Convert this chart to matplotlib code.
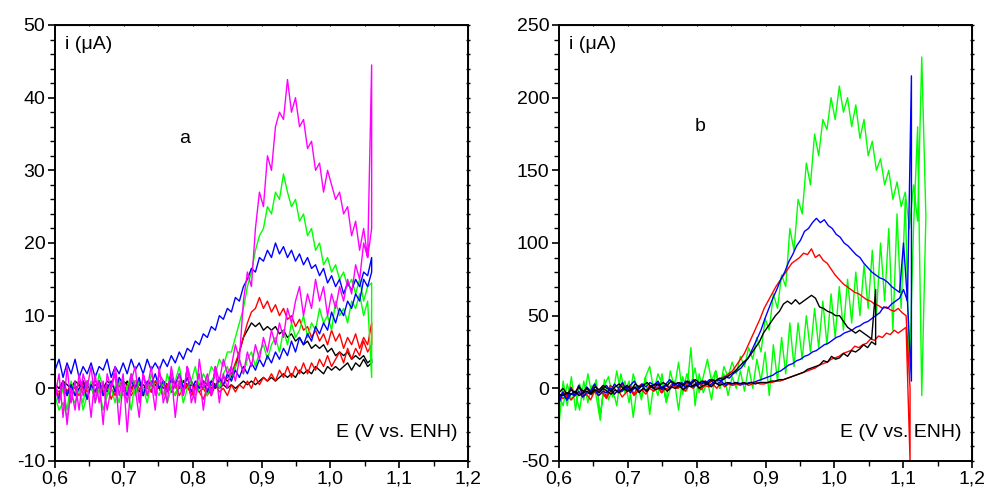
import numpy as np
import matplotlib
matplotlib.use("Agg")
import matplotlib.pyplot as plt
from matplotlib.ticker import MultipleLocator, FuncFormatter

plt.rcParams['font.family'] = ['Liberation Sans', 'DejaVu Sans']

# ---------------- panel a : sweep 0.60 -> 1.06 V ----------------
a_e_min, a_e_max = 0.60, 1.06

a_black_fwd = [0.5, 0, 1, 0.5, 0, 1, 0.5, 1, 0, 0.5, 1, 0.5, 0, 1, 0.5, 0, 0.5, 1, 0.5, 0, 1, 0.5, 0, 0.5,
               1, 0.5, 0, 1, 0.5, 1, 0.5, 0, 1, 0.5, 1, 0, 0.5, 1, 0.5, 1, 0.5, 1, 1.5, 1,
               1.5, 3, 5, 7, 8, 9, 8.5, 9, 8, 8.5, 8, 8.5, 7.5, 8, 7, 7.5, 6.5, 7, 6, 6.5,
               5.5, 6, 5.5, 6, 5, 5.5, 4.5, 5, 4.5, 5, 4, 4.5, 4, 4.5, 3.5, 4]
a_black_rev = [3.5, 3, 4, 3, 3.5, 2.5, 3.5, 3, 2.5, 3, 2.5, 3, 2, 2.5, 3, 2, 2.5, 2, 2.5, 1.5, 2, 1.5,
               2, 1.5, 1, 1.5, 1, 1.5, 1, 0.5, 1, 0.5, 1, 0.5, 0, 0.5, 0, 0.5, 0, 0.5, 0, 0.5, 0, 0.5,
               0, 0.5, 0, 1, 0, 0.5, -0.5, 0.5, 0, 1, 0, 0.5, 0, 0.5, -0.5, 0.5, 0, 1, 0, 0.5,
               0, 0.5, -0.5, 0.5, 0, 0.5, 0, 1, 0, 0.5, 0, 0.5, -0.5, 0.5, 0, 0.5]

a_red_fwd = [0, -1, 1, -0.5, 0.5, -1, 1, 0, -1.5, 0.5, -0.5, 1, -1, 0.5, 0, -1, 1, -0.5, 0.5, -1, 0, 1,
             -1, 0.5, -0.5, 1, 0, -1, 0.5, -0.5, 1, -1, 0, 0.5, -1, 0.5, -0.5, 0, -1, 0.5, 0, 1, 0.5, 1.5,
             2, 3.5, 5, 7, 9, 10.5, 11, 12.5, 11, 12, 10.5, 11.5, 10, 11, 9.5, 10, 8.5, 9.5, 8, 8.5,
             7, 8, 6.5, 7.5, 6, 8, 6.5, 7.5, 5.5, 7, 6, 7.5, 5.5, 7, 6, 9]
a_red_rev = [6, 5, 6.5, 4.5, 5.5, 4, 5.5, 3.5, 5, 4, 3, 4.5, 3, 4, 2.5, 3.5, 2, 3.5, 2, 3, 1.5, 3,
             1.5, 2.5, 1, 2, 1, 1.5, 0.5, 1.5, 0, 1, 0, 0.5, -0.5, 0.5, -1, 0, -0.5, 0.5, -1, 0, -1.5, -0.5,
             0, -1, 0.5, -0.5, 1, -1, 0, 0.5, -1, 0, 1, -0.5, 0.5, -1, 0, 1, -0.5, 0, -1, 0.5,
             0, -1.5, 0.5, -0.5, 1, -1, 0, -0.5, 1, -1, 0, 0.5, -1, 0, -0.5, 0]

a_green_fwd = [1, -2, 0, -3, 1, -1, 0, -2, 1, 0, -1, 2, 0, -1, 1, 0, -2, 1, 0, 2, -1, 1, 0, -1,
               2, 0, 1, -1, 2, 0, 1, 3, 0, 2, 1, 3, 0, 2, 1, 3, 2, 4, 3, 5,
               5, 7, 9, 11, 14, 16, 19, 21, 22, 25, 24, 27, 26, 29.5, 27, 25, 26, 23, 24, 21,
               22, 19, 20, 17, 18, 16, 17, 15, 16, 14, 15, 13, 15, 12, 14, 14.5]
a_green_rev = [1.5, 12, 10, 13, 11, 12, 9, 11, 10, 12, 8, 10, 9, 11, 8, 9, 7, 10, 8, 7, 9, 6,
               8, 5, 7, 6, 4, 6, 5, 3, 5, 4, 2, 4, 3, 1, 3, 2, 0, 2, 1, -1, 1, 0,
               -1, 1, 0, -2, 1, -1, 0, -2, 1, -1, 0, 1, -2, 0, -1, 1, -3, 0, -1, 1, -2, 0,
               -1, -3, 0, -2, 1, -1, -3, 0, -2, -1, -4, -2, -3, -1]

a_blue_fwd = [2.5, 4, 1.5, 3.5, 2, 4, 1.5, 3, 2, 3.5, 1.5, 3, 2.5, 4, 1.5, 3, 2, 3.5, 2, 4, 2.5, 3.5,
              2, 4, 2.5, 3.5, 2.5,
              4, 3, 4.5, 3.5, 5, 4, 5.5, 5, 6.5, 6, 7.5, 7, 8.5, 8, 10, 9.5, 11,
              10.5, 12.5, 12, 14, 15, 16.5, 16, 18, 17.5, 19, 18, 20, 18.5, 19.5, 18, 19, 17.5, 18.5,
              17, 18, 16.5, 17, 15.5, 16.5, 14.5, 15.5, 14, 15, 13, 14.5, 13.5, 15, 14, 16, 15.5, 18]
a_blue_rev = [16, 14, 15, 12, 13, 11, 12, 10, 11, 9, 10.5, 8, 9, 7.5, 8.5, 6.5, 7.5, 6, 7, 5, 6.5,
              4.5, 5.5, 4, 5, 3.5, 4.5, 3, 4, 2.5, 3.5, 2, 3, 1.5, 2.5, 1, 2, 0.5, 1.5, 0, 1, -0.5, 1, 0,
              1, -0.5, 1.5, 0, 2, 0.5, 1.5, -0.5, 1, 0, 2, 0.5, 1, -1, 1.5, 0, 1, -1, 0.5, 1.5,
              -0.5, 1, 0, -1, 1, -0.5, 0.5, -1.5, 1, 0, -1, 0.5, -1, 1, -1.5, 0]

a_magenta_fwd = [-1, 2, -4, 3, -2, 1, -3, 2, 0, 3, -2, 1, -5, 2, 0, 3, -1, 2, -6, 1, 3, -2,
                 2, 0, 3, -1, 2, 1, -2, 3, 0, 2, -1, 3, 1, -2, 4, 0, 2, -1, 3, 1, 4, 2,
                 3, 6, 4, 12, 16, 14, 22, 27, 25, 32, 30, 36, 38, 37, 42.5, 38, 40, 36, 37, 33,
                 34, 30, 31, 27, 30, 28, 26, 27, 24, 25, 21, 23, 19, 22, 18, 44.5]
a_magenta_rev = [22, 18, 20, 15, 17, 13, 15, 12, 14, 11, 13, 10, 14, 12, 15, 11, 13, 10, 14, 12,
                 9, 11, 7, 9, 6, 8, 5, 7, 4, 6, 3, 5, 2, 4, 1, 3,
                 0, 2, -2, 3, -1, 1, -3, 2, 0, -2, 3, -1, 1, -4, 2, 0, -2, 3, -3, 1, -1, 2,
                 -4, 0, 2, -2, 1, -5, 2, 0, -3, 1, -2, 2, -4, 1, -1, 2, -3, 0, -5, 1, -2, 0]

# ---------------- panel b ----------------
b_green_range = (0.60, 1.133)
b_green_fwd = [-25, 5, -12, 8, -15, 3, -8, 10, -5, 6, -18, 2, 8, -6, 12, -3, 5, -10, 10, 0, -5,
               8, 15, -2, 10, 3, -8, 12, 0, 18, -4, 10, 2, 14, -3, 8, 20, 5, 12, 0, 15, 8,
               18, 10, 22, 15, 28, 20, 35, 25, 48, 40, 65, 55, 78, 70, 110, 95, 130, 120,
               155, 140, 175, 160, 185, 178, 200, 185, 208, 190, 200, 180, 195, 172, 185, 160,
               170, 150, 158, 140, 150, 130, 142, 125, 135, 110, 140, 115, 228, 120]
b_green_rev = [118, -5, 180, 110, 10, 130, 55, 120, 40, 110, 60, 100, 50, 95, 55, 85, 50, 80,
               45, 75, 40, 70, 35, 65, 30, 60, 28, 55, 25, 50, 20, 45, 15, 45, 10, 35, 5, 30,
               -5, 25, 5, 20, 0, 15, -2, 12, 0, 8, -5, 10,
               0, 12, -8, 5, -3, 10, -12, 28, -2, 8, -15, 5, 0, -10, 10, -5, 3, -18, 8, -8,
               2, -20, 5, -3, 10, -12, 0, -8, 6, -22, -5, 2, -10, 5, -15, -3, -8, 3, -12, -5]

b_blue_range = (0.60, 1.112)
b_blue_fwd = [-10, -3, -8, 0, -5, 2, -4, 1, -2, 3, -3, 0, 2, -2, 3, 0, 4, -1, 2, 5, 0, 3, 1, 4,
              2, 5, 0, 3, 6, 2, 4, 1, 5, 3, 6, 2, 5, 3, 6, 4,
              6, 5, 8, 7, 10, 12, 14, 18, 22, 28, 34, 40, 48, 55, 62, 68, 75, 80, 87, 92,
              98, 102, 108, 110, 114, 117, 114, 116, 112, 110, 106, 104, 100, 98, 95, 92, 90, 86, 83, 80,
              78, 76, 75, 73, 70, 68, 66, 100, 60, 215]
b_blue_rev = [5, 60, 68, 62, 60, 58, 55, 56, 52, 50, 48, 46, 45, 43, 42, 40, 39, 38, 36, 35,
              33, 31, 30, 28, 26, 25, 23, 22, 20, 19, 17, 16, 14, 12, 11, 9, 8, 7, 6, 5,
              4, 4, 3, 3, 4, 3,
              4, 2, 5, 3, 4, 2, 5, 3, 4, 1, 3, 0, 4, 2, 3, 0, 2, -1, 3, 0, 1, -2, 2, -1,
              0, -3, 1, -2, -1, -4, 0, -3, -2, -5, -1, -4, -3, -6, -2, -5, -4, -8, -3, -6]

b_red_range = (0.60, 1.11)
b_red_fwd = [-8, -2, -6, 1, -4, 2, -5, 0, -3, 3, -2, 1, -6, 2, 0, -3, 3, -1, 2, -4, 1, 3, -2, 2,
             0, 4, -3, 2, 1, 4, 0, 3, 2, 5, 1, 4, 2, 5, 3, 6,
             5, 7, 8, 10, 12, 16, 20, 24, 30, 36, 42, 48, 55, 60, 65, 70, 74, 78, 82, 86,
             88, 90, 93, 92, 96, 90, 92, 88, 86, 82, 78, 75, 72, 70, 68, 66, 65, 63, 61, 60,
             58, 57, 55, 56, 54, 53, 55, 52, 50, 0]
b_red_rev = [-50, 42, 40, 38, 40, 37, 38, 35, 36, 33, 34, 31, 30, 28, 29, 26, 25, 24, 22, 21,
             20, 18, 17, 16, 14, 13, 12, 11, 10, 9, 8, 7, 6, 5, 5, 4, 4, 3, 3, 4, 3, 2, 4, 2, 3, 2,
             3, 1, 4, 0, 3, 1, 2, -1, 3, 0, 2, -2, 1, 0, 2, -1, 0, -3, 1, -2, 0, -4, -1, -2,
             -5, 0, -3, -6, -1, -4, -2, -7, -3, -5, -2, -8, -4, -6, -3, -5, -8, -4, -7, -5]

b_black_range = (0.60, 1.06)
b_black_fwd = [-3, 0, -4, -1, -3, 1, -2, 0, -3, 1, -1, 2, 0, -2, 1, 3, 0, 2, -1, 3, 1, 2, 4, 1,
               3, 2, 4, 2, 5, 3, 4, 2, 5, 3, 6, 4, 5, 3, 6, 5, 7, 6,
               8, 10, 12, 15, 18, 20, 24, 28, 32, 38, 42, 46, 50, 53, 58, 60, 58, 61, 58, 60,
               62, 64, 62, 56, 55, 53, 52, 50, 50, 46, 42, 40, 38, 40, 38, 36, 34, 68]
b_black_rev = [30, 32, 28, 30, 27, 25, 26, 22, 24, 21, 20, 22, 18, 19, 16, 15, 14, 13, 11, 10,
               9, 8, 7, 6, 6, 5, 5, 4, 4, 4, 3, 4, 3, 4, 3, 4, 3, 4,
               3, 2, 4, 1, 3, 2, 0, 3, 1, 2, -1, 2, 0, 1, -2, 1, 0, -1, 2, -2, 0, -3, 1, -1,
               -2, 0, -3, -1, -4, -2, 0, -3, -1, -4, -2, -3, -5, -2, -4, -3, -5, -4]


def cycle(e_lo, e_hi, fwd, rev):
    """forward sweep e_lo -> e_hi, then back to e_lo"""
    e = np.concatenate([np.linspace(e_lo, e_hi, len(fwd)), np.linspace(e_hi, e_lo, len(rev))])
    return e, np.concatenate([fwd, rev])


def style_axes(ax, ymin, ymax, ymaj, ymin_step):
    ax.set_xlim(0.6, 1.2)
    ax.set_ylim(ymin, ymax)
    ax.xaxis.set_major_locator(MultipleLocator(0.1))
    ax.xaxis.set_minor_locator(MultipleLocator(0.05))
    ax.yaxis.set_major_locator(MultipleLocator(ymaj))
    ax.yaxis.set_minor_locator(MultipleLocator(ymin_step))
    ax.xaxis.set_major_formatter(FuncFormatter(lambda v, p: f"{v:.1f}".replace('.', ',')))
    ax.yaxis.set_major_formatter(FuncFormatter(lambda v, p: f"{int(round(v))}"))
    ax.tick_params(which='major', direction='out', length=5, width=1.2, labelsize=14, pad=2)
    ax.tick_params(which='minor', direction='out', length=3.5, width=1.0)
    for s in ax.spines.values():
        s.set_linewidth(1.4)
    # small ticks on right and top frame
    sy = ax.secondary_yaxis('right')
    sy.yaxis.set_major_locator(MultipleLocator(ymaj))
    sy.yaxis.set_minor_locator(MultipleLocator(ymin_step))
    sy.tick_params(which='both', direction='inout', length=3, width=1.0, labelright=False)
    sx = ax.secondary_xaxis('top')
    sx.xaxis.set_major_locator(MultipleLocator(0.1))
    sx.xaxis.set_minor_locator(MultipleLocator(0.05))
    sx.tick_params(which='both', direction='inout', length=2, width=0.8, labeltop=False)
    ax.text(0.025, 0.975, "i (\u03bcA)", transform=ax.transAxes, fontsize=14, ha='left', va='top')
    ax.text(0.975, 0.045, "E (V vs. ENH)", transform=ax.transAxes, fontsize=14, ha='right', va='bottom')


fig = plt.figure(figsize=(9.88, 4.95), dpi=100)
ax1 = fig.add_axes([0.0557, 0.0687, 0.418, 0.8808])
ax2 = fig.add_axes([0.5658, 0.0687, 0.418, 0.8808])

lw = 1.0
for fwd, rev, col in [(a_black_fwd, a_black_rev, '#000000'),
                      (a_red_fwd, a_red_rev, '#ff0000'),
                      (a_green_fwd, a_green_rev, '#00ff00'),
                      (a_blue_fwd, a_blue_rev, '#0000ff'),
                      (a_magenta_fwd, a_magenta_rev, '#ff00ff')]:
    e, i = cycle(a_e_min, a_e_max, fwd, rev)
    ax1.plot(e, i, color=col, lw=lw)
style_axes(ax1, -10, 50, 10, 2)
ax1.text(0.789, 34.4, "a", fontsize=14, ha='center', va='center')

for rng, fwd, rev, col in [(b_green_range, b_green_fwd, b_green_rev, '#00ff00'),
                           (b_red_range, b_red_fwd, b_red_rev, '#ff0000'),
                           (b_blue_range, b_blue_fwd, b_blue_rev, '#0000ff'),
                           (b_black_range, b_black_fwd, b_black_rev, '#000000')]:
    e, i = cycle(rng[0], rng[1], fwd, rev)
    ax2.plot(e, i, color=col, lw=lw)
style_axes(ax2, -50, 250, 50, 10)
ax2.text(0.805, 180.5, "b", fontsize=14, ha='center', va='center')

fig.savefig("out.png", dpi=100)
